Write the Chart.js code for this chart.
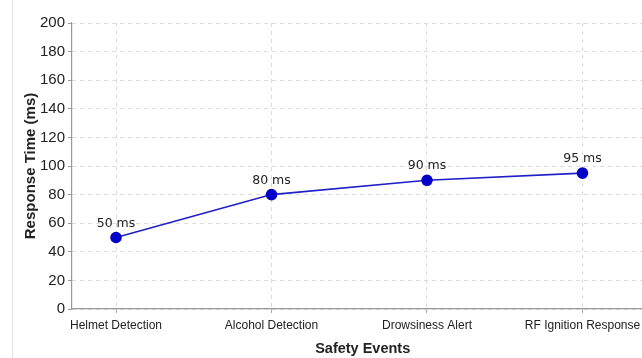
<!DOCTYPE html>
<html>
<head>
<meta charset="utf-8">
<script src="https://cdn.jsdelivr.net/npm/chart.js@4.4.1/dist/chart.umd.min.js"></script>
<style>
  html, body { margin: 0; padding: 0; background: #fff; }
  #wrap { position: relative; width: 642px; height: 358px; overflow: hidden; }
  #border { position: absolute; left: 12px; top: 0; width: 1px; height: 358px; background: #e4e4e4; }
  canvas { position: absolute; left: 0; top: 0; }
</style>
</head>
<body>
<div id="wrap">
  <div id="border"></div>
  <canvas id="c" width="660" height="358"></canvas>
</div>
<script>
const categories = ["Helmet Detection", "Alcohol Detection", "Drowsiness Alert", "RF Ignition Response"];
const responseTimes = [50, 80, 90, 95];
const pointLabels = ["50 ms", "80 ms", "90 ms", "95 ms"];
const yTicks = [0, 20, 40, 60, 80, 100, 120, 140, 160, 180, 200];

const FONT = "'Liberation Sans', Arial, sans-serif";
const NARROW = "'Liberation Sans Narrow', 'Liberation Sans', Arial, sans-serif";

const dataLabelPlugin = {
  id: 'dataLabels',
  afterDatasetsDraw(chart) {
    const ctx = chart.ctx;
    const meta = chart.getDatasetMeta(0);
    ctx.save();
    ctx.font = "12.5px 'DejaVu Sans', sans-serif";
    ctx.fillStyle = '#222';
    ctx.textAlign = 'center';
    ctx.textBaseline = 'bottom';
    meta.data.forEach((pt, i) => {
      ctx.fillText(pointLabels[i], pt.x, pt.y - 8);
    });
    ctx.restore();
  }
};

new Chart(document.getElementById('c'), {
  type: 'line',
  data: {
    datasets: [{
      data: responseTimes.map((v, i) => ({ x: i, y: v })),
      borderColor: '#2020c8',
      backgroundColor: '#0000c8',
      pointBackgroundColor: '#0000c8',
      pointBorderColor: '#0000c8',
      pointRadius: 5,
      borderWidth: 1.6,
      tension: 0,
      fill: false
    }]
  },
  options: {
    responsive: false,
    animation: false,
    layout: { padding: { top: 23, right: 0, left: 0, bottom: 0 } },
    plugins: { legend: { display: false }, tooltip: { enabled: false }, title: { display: false } },
    scales: {
      x: {
        type: 'linear',
        min: -0.283,
        max: 3.456,
        afterBuildTicks(scale) { scale.ticks = categories.map((c, i) => ({ value: i })); },
        afterFit(scale) { scale.height = 49; },
        ticks: {
          autoSkip: false,
          maxRotation: 0,
          color: '#222',
          font: { family: FONT, size: 12 },
          padding: 5,
          callback: (v) => categories[v] !== undefined ? categories[v] : ''
        },
        grid: { color: '#dcdcdc', drawTicks: true, tickLength: 4, tickColor: '#aaa', lineWidth: 1 },
        border: { display: true, color: '#999', width: 1.2, dash: [4, 4] },
        title: { display: true, text: 'Safety Events', color: '#222', font: { family: FONT, size: 14.5, weight: 'bold' }, padding: { top: 4, bottom: 0 } }
      },
      y: {
        min: 0,
        max: 200,
        afterBuildTicks(scale) { scale.ticks = yTicks.map(v => ({ value: v })); },
        afterFit(scale) { scale.width = 72; },
        ticks: { color: '#222', font: { family: NARROW, size: 15 }, padding: 3 },
        grid: { color: '#dcdcdc', tickLength: 4, tickColor: '#999', lineWidth: 1 },
        border: { display: true, color: '#999', width: 1.2, dash: [4, 4] },
        title: { display: true, text: 'Response Time (ms)', color: '#222', font: { family: FONT, size: 15, weight: 'bold' }, padding: { top: 22, bottom: 4 } }
      }
    }
  },
  plugins: [dataLabelPlugin]
});
</script>
</body>
</html>
